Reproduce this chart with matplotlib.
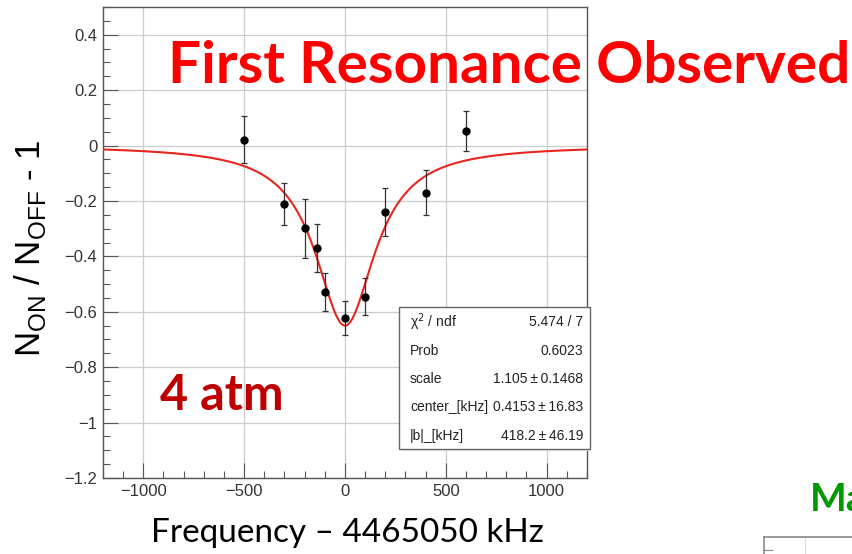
import numpy as np
import matplotlib
matplotlib.use("Agg")
import matplotlib.pyplot as plt
from matplotlib.patches import Rectangle
from matplotlib.lines import Line2D
from matplotlib.ticker import MultipleLocator, FuncFormatter

# Данные
freq = [-500, -300, -200, -140, -100, 0, 100, 200, 400, 600]
ratio = [0.021, -0.211, -0.299, -0.371, -0.529, -0.622, -0.546, -0.240, -0.170, 0.052]
err = [0.084, 0.077, 0.107, 0.087, 0.069, 0.061, 0.067, 0.088, 0.082, 0.071]

# Параметры кривой (лоренциан)
fit_depth = 0.65
fit_center = 0.4153
fit_width = 180.0

stat_names = ["χ$^2$ / ndf", "Prob", "scale", "center_[kHz]", "|b|_[kHz]"]
stat_values = ["5.474 / 7", "0.6023", "1.105\u2009±\u20090.1468",
               "0.4153\u2009±\u200916.83", "418.2\u2009±\u200946.19"]

W, H = 853, 554
fig = plt.figure(figsize=(W / 100, H / 100), dpi=100)


def fx(px):
    return px / W


def fy(py):
    return 1 - py / H


ax = fig.add_axes([fx(103), fy(478), (587 - 103) / W, (478 - 7) / H])

xs = np.linspace(-1200, 1200, 600)
ys = -fit_depth / (1 + ((xs - fit_center) / fit_width) ** 2)
ax.plot(xs, ys, color="#e8261f", lw=1.5, zorder=3)
ax.errorbar(freq, ratio, yerr=err, fmt="o", color="black", ms=5,
            ecolor="#333333", elinewidth=0.9, capsize=2.5, capthick=0.9, zorder=4)

ax.set_xlim(-1200, 1200)
ax.set_ylim(-1.2, 0.5)
ax.xaxis.set_major_locator(MultipleLocator(500))
ax.xaxis.set_minor_locator(MultipleLocator(100))
ax.yaxis.set_major_locator(MultipleLocator(0.2))
ax.yaxis.set_minor_locator(MultipleLocator(0.05))


def fmt(v, pos):
    s = "%g" % round(v, 3)
    return s.replace("-", "−")


ax.xaxis.set_major_formatter(FuncFormatter(fmt))
ax.yaxis.set_major_formatter(FuncFormatter(fmt))
ax.grid(True, which="major", color="#cccccc", lw=0.9)
ax.tick_params(which="both", direction="in", top=False, right=False,
               labelsize=12, labelcolor="#333333", color="#555555")
ax.tick_params(which="major", length=11, width=0.8, pad=4)
ax.tick_params(which="minor", length=5, width=0.8)
for t in ax.get_xticklabels() + ax.get_yticklabels():
    t.set_family("Liberation Sans")
for sp in ax.spines.values():
    sp.set_color("#555555")
    sp.set_linewidth(1.0)

# Окно статистики
fig.patches.append(Rectangle((fx(401), fy(451)), (591 - 401) / W, (451 - 309) / H,
                             transform=fig.transFigure, facecolor="#e6e6e6",
                             edgecolor="none", zorder=5))
fig.patches.append(Rectangle((fx(399), fy(449)), (590 - 399) / W, (449 - 307) / H,
                             transform=fig.transFigure, facecolor="white",
                             edgecolor="#666666", lw=1.0, zorder=6))
row_y = [322, 351, 379, 407, 436]
for name, val, yy in zip(stat_names, stat_values, row_y):
    fig.text(fx(410), fy(yy), name, ha="left", va="center", fontsize=10,
             family=["Liberation Sans", "DejaVu Sans"], color="#222222", zorder=7)
    fig.text(fx(583), fy(yy), val, ha="right", va="center", fontsize=10,
             family=["Liberation Sans", "DejaVu Sans"], color="#222222", zorder=7)

# Подписи осей
fig.text(fx(30), fy(248), "N$_{\\mathregular{ON}}$ / N$_{\\mathregular{OFF}}$ - 1",
         rotation=90, ha="center", va="center", fontsize=25,
         family="Liberation Sans", color="black")
fig.text(fx(347), fy(533), "Frequency – 4465050 kHz", ha="center", va="center",
         fontsize=24, family="Lato", color="black")

# Заголовок и надписи
fig.text(fx(168), fy(83), "First Resonance Observed", ha="left", va="baseline",
         fontsize=42, family="Lato", weight="bold", color="#ff0000", zorder=8)
fig.text(fx(160), fy(410), "4 atm", ha="left", va="baseline",
         fontsize=35, family="Lato", weight="bold", color="#c00000", zorder=8)
fig.text(fx(810), fy(511), "Ma", ha="left", va="baseline",
         fontsize=28, family="Lato", weight="bold", color="#009900", zorder=8)

# Кусочек соседнего графика в углу
fig.add_artist(Line2D([fx(764), fx(853)], [fy(537), fy(537)], color="#888888", lw=1.2))
fig.add_artist(Line2D([fx(764), fx(764)], [fy(537), fy(554)], color="#888888", lw=1.2))
fig.add_artist(Line2D([fx(805), fx(805)], [fy(538), fy(554)], color="#dddddd", lw=0.8))
fig.add_artist(Line2D([fx(764), fx(772)], [fy(550), fy(550)], color="#888888", lw=0.8))

fig.savefig("out.png", dpi=100)
